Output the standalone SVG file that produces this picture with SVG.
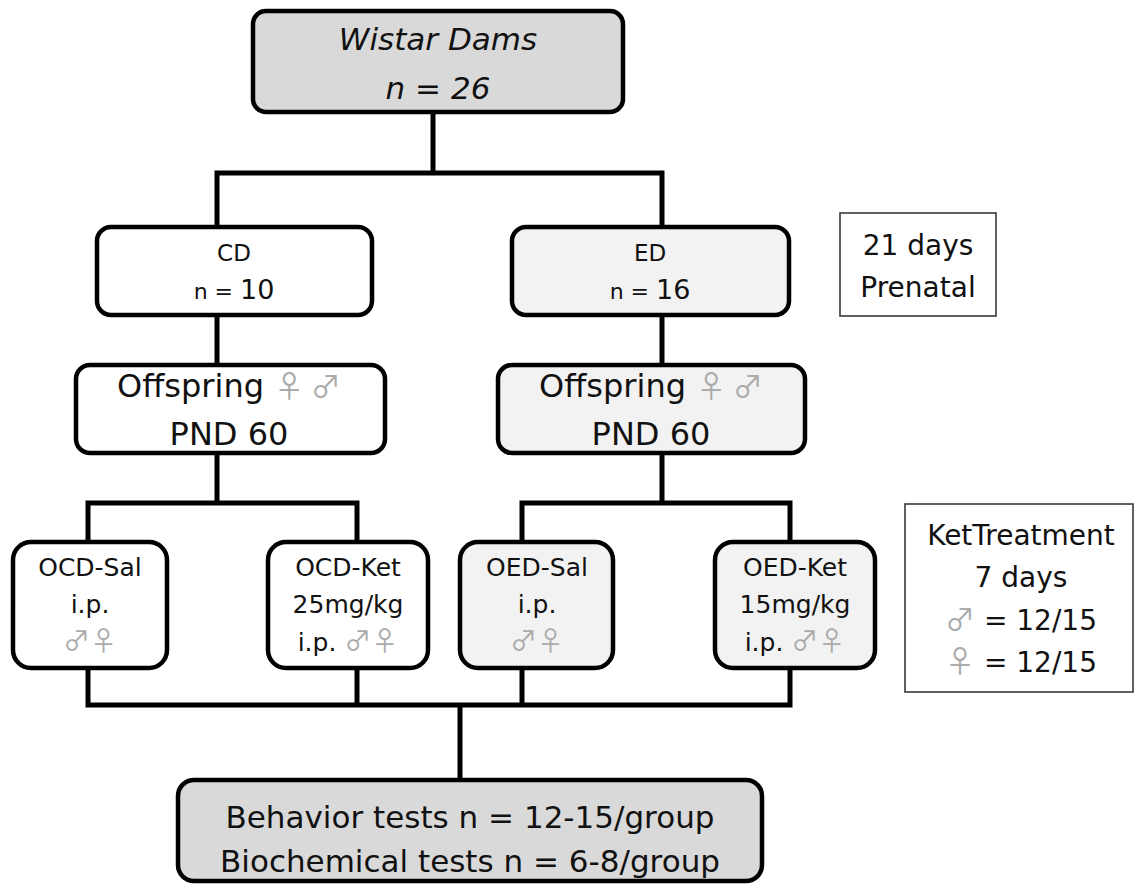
<svg xmlns="http://www.w3.org/2000/svg" width="1135" height="893" viewBox="0 0 1135 893">
<style>
.box{stroke:#000;stroke-width:4.5}
.g1{fill:#d9d9d9}
.g2{fill:#f2f2f2}
.w{fill:#fff}
.note{fill:#fff;stroke:#3a3a3a;stroke-width:1.6}
text{font-family:"DejaVu Sans","Liberation Sans",sans-serif;fill:#111;text-anchor:middle}
.sym{fill:#ababab;font-family:"Noto Sans CJK JP","DejaVu Sans",sans-serif}
.conn{stroke:#000;stroke-width:5;fill:none;stroke-linecap:square}
</style>
<rect width="1135" height="893" fill="#fff"/>
<g id="connectors">
<path class="conn" d="M433 112V173M217 173H662M217 173V228M662 173V228"/>
<path class="conn" d="M217 315V365M662 315V365"/>
<path class="conn" d="M217 453V503M88 503H357M88 503V542M357 503V542"/>
<path class="conn" d="M662 453V503M522 503H790M522 503V542M790 503V542"/>
<path class="conn" d="M88 668V705M357 668V705M522 668V705M790 668V705M88 705H790M460 705V780"/>
</g>
<g id="wistar">
<rect class="box g1" x="253" y="11" width="370" height="101" rx="13"/>
<text x="438" y="50" font-size="31" font-style="italic">Wistar Dams</text>
<text x="438" y="99" font-size="31" font-style="italic">n = 26</text>
</g>
<g id="cd">
<rect class="box w" x="97" y="227" width="275" height="88" rx="14"/>
<text x="234" y="261" font-size="23">CD</text>
<text x="234" y="299" font-size="22">n = <tspan font-size="27">10</tspan></text>
</g>
<g id="ed">
<rect class="box g2" x="512" y="227" width="277" height="88" rx="14"/>
<text x="650" y="261" font-size="23">ED</text>
<text x="650" y="299" font-size="22">n = <tspan font-size="27">16</tspan></text>
</g>
<g id="prenatal">
<rect class="note" x="840" y="213" width="156" height="103"/>
<text x="918" y="255" font-size="28">21 days</text>
<text x="918" y="297" font-size="28">Prenatal</text>
</g>
<g id="offspring-cd">
<rect class="box w" x="76" y="365" width="309" height="88" rx="14"/>
<text x="229" y="397" font-size="32">Offspring <tspan class="sym" font-size="30">♀ ♂</tspan></text>
<text x="229" y="445" font-size="32">PND 60</text>
</g>
<g id="offspring-ed">
<rect class="box g2" x="498" y="365" width="307" height="88" rx="14"/>
<text x="651" y="397" font-size="32">Offspring <tspan class="sym" font-size="30">♀ ♂</tspan></text>
<text x="651" y="445" font-size="32">PND 60</text>
</g>
<g id="ocd-sal">
<rect class="box w" x="13" y="542" width="154" height="126" rx="18"/>
<text x="90" y="576" font-size="25">OCD-Sal</text>
<text x="90" y="613" font-size="25">i.p.</text>
<text x="90" y="651" font-size="27" class="sym">♂♀</text>
</g>
<g id="ocd-ket">
<rect class="box w" x="268" y="542" width="160" height="126" rx="18"/>
<text x="348" y="576" font-size="25">OCD-Ket</text>
<text x="348" y="613" font-size="25">25mg/kg</text>
<text x="348" y="651" font-size="25">i.p. <tspan class="sym" font-size="27">♂♀</tspan></text>
</g>
<g id="oed-sal">
<rect class="box g2" x="460" y="542" width="153" height="126" rx="18"/>
<text x="537" y="576" font-size="25">OED-Sal</text>
<text x="537" y="613" font-size="25">i.p.</text>
<text x="537" y="651" font-size="27" class="sym">♂♀</text>
</g>
<g id="oed-ket">
<rect class="box g2" x="715" y="542" width="160" height="126" rx="18"/>
<text x="795" y="576" font-size="25">OED-Ket</text>
<text x="795" y="613" font-size="25">15mg/kg</text>
<text x="795" y="651" font-size="25">i.p. <tspan class="sym" font-size="27">♂♀</tspan></text>
</g>
<g id="ket-treatment">
<rect class="note" x="905" y="504" width="228" height="188"/>
<text x="1021" y="545" font-size="28">KetTreatment</text>
<text x="1021" y="587" font-size="28">7 days</text>
<text x="1021" y="630" font-size="28"><tspan class="sym" font-size="30">♂</tspan> = 12/15</text>
<text x="1021" y="672" font-size="28"><tspan class="sym" font-size="30">♀</tspan> = 12/15</text>
</g>
<g id="tests">
<rect class="box g1" x="178" y="780" width="584" height="101" rx="16"/>
<text x="470" y="828" font-size="31">Behavior tests n = 12-15/group</text>
<text x="470" y="872" font-size="31">Biochemical tests n = 6-8/group</text>
</g>
</svg>
